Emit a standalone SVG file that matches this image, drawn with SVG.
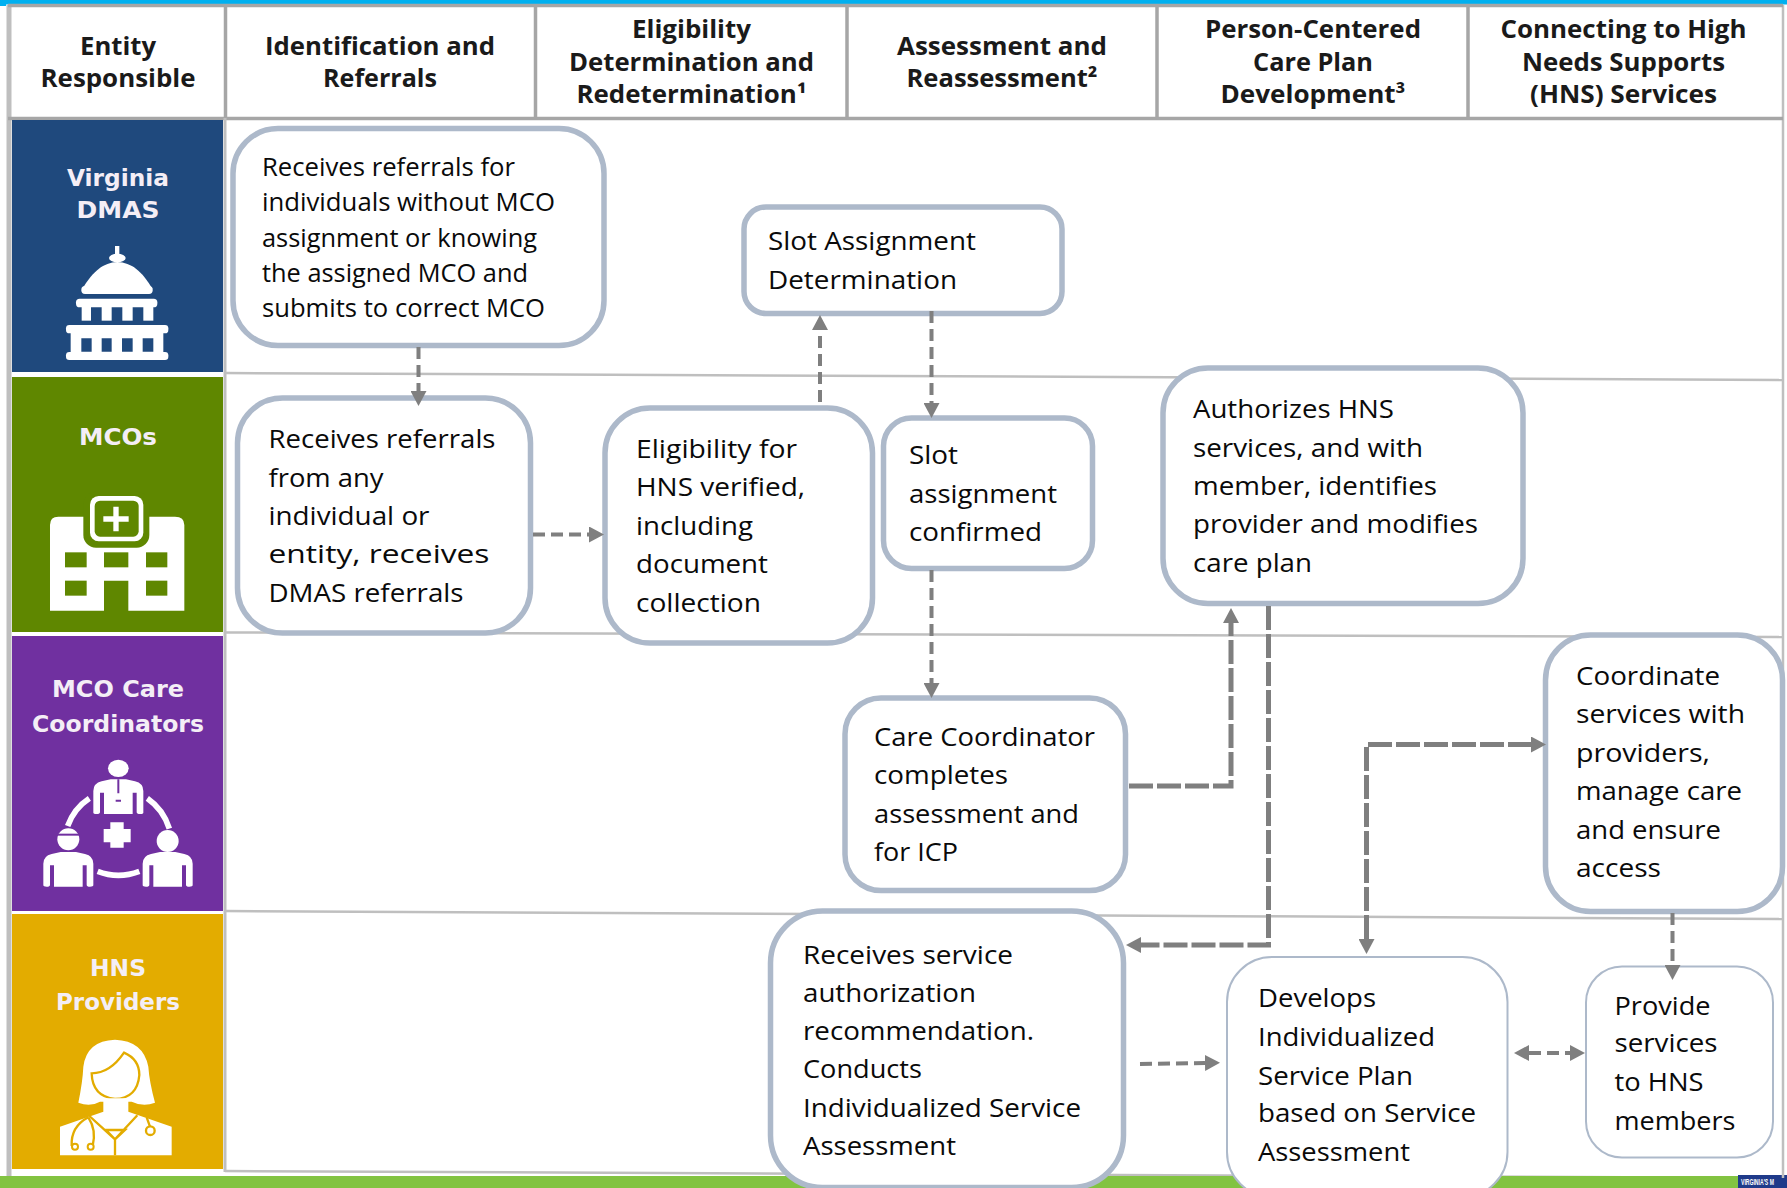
<svg xmlns="http://www.w3.org/2000/svg" width="1787" height="1188" viewBox="0 0 1787 1188">
<style>
.b{font-family:"Open Sans","Noto Sans",sans-serif;font-size:25.500px;fill:#0a0a0a}
.h{font-family:"Open Sans","Noto Sans",sans-serif;font-size:24.500px;font-weight:700;fill:#1a1a1a;text-anchor:middle}
.l{font-family:"DejaVu Sans",sans-serif;font-size:22.500px;font-weight:700;fill:#f4eef6;text-anchor:middle}
.n{fill:#fff;stroke:#adb9ca;stroke-width:5.500}
.t{fill:#fff;stroke:#adb9ca;stroke-width:2}
.g{stroke:#bfbfbf;stroke-width:2.500;fill:none}
.v{stroke:#a6a6a6;stroke-width:3.500;fill:none}
.c{fill:none;stroke:#7f7f7f;stroke-width:4;stroke-dasharray:12 6}
.k{fill:none;stroke:#7f7f7f;stroke-width:5;stroke-dasharray:24 4}
.w{fill:#fff}
</style>
<defs>
<marker id="a" markerUnits="userSpaceOnUse" markerWidth="16" markerHeight="16" refX="0" refY="8" orient="auto-start-reverse"><path d="M0,0L15,8L0,16Z" fill="#7f7f7f"/></marker>
<g id="body"><path class="w" d="M0,100V35Q0,12 25,6L52,0L98,0L125,6Q150,12 150,35V100Q150,104 140,104Q130,104 130,98V40H118V104H32V40H20V98Q20,104 10,104Q0,104 0,100Z"/></g>
</defs>

<g id="frame">
<rect x="0" y="0" width="1787" height="1188" fill="#fff"/>
<rect x="6" y="0" width="1781" height="4.500" fill="#00b0f0"/>
<rect x="0" y="0" width="6" height="6" fill="#00b0f0"/>
<path class="g" d="M225,373L1783,380"/>
<path class="g" d="M225,632.500L1783,637"/>
<path class="g" d="M225,911L1783,919"/>
<path class="g" d="M225,1171L1783,1178"/>
<rect x="0" y="1176" width="1787" height="12" fill="#82c341"/>
<rect x="1738" y="1175" width="49" height="13" fill="#1f3a8a"/>
<text transform="translate(1741,1185) scale(.6,1)" font-family="'Liberation Sans',sans-serif" font-size="8.500" font-weight="700" fill="#fff">VIRGINIA'S M</text>
<path class="g" d="M1783,5V1178"/>
<path d="M9,5V1176" stroke="#bfbfbf" stroke-width="5" fill="none"/>
<path class="v" d="M8,5.500H1783M8,118.500H1783M225.500,5V118M535.500,5V118M847,5V118M1157,5V118M1468,5V118"/>
<path d="M225,118V1172" stroke="#bfbfbf" stroke-width="3" fill="none"/>
</g>

<g id="header">
<text class="h" x="118" y="55" textLength="76" lengthAdjust="spacingAndGlyphs">Entity</text>
<text class="h" x="118" y="87" textLength="155" lengthAdjust="spacingAndGlyphs">Responsible</text>
<text class="h" x="380" y="55" textLength="230" lengthAdjust="spacingAndGlyphs">Identification and</text>
<text class="h" x="380" y="87" textLength="114" lengthAdjust="spacingAndGlyphs">Referrals</text>
<text class="h" x="691.500" y="38" textLength="119" lengthAdjust="spacingAndGlyphs">Eligibility</text>
<text class="h" x="691.500" y="71" textLength="245" lengthAdjust="spacingAndGlyphs">Determination and</text>
<text class="h" x="691.500" y="103" textLength="230" lengthAdjust="spacingAndGlyphs">Redetermination¹</text>
<text class="h" x="1002" y="55" textLength="210" lengthAdjust="spacingAndGlyphs">Assessment and</text>
<text class="h" x="1002" y="87" textLength="191" lengthAdjust="spacingAndGlyphs">Reassessment²</text>
<text class="h" x="1313" y="38" textLength="216" lengthAdjust="spacingAndGlyphs">Person-Centered</text>
<text class="h" x="1313" y="71" textLength="120" lengthAdjust="spacingAndGlyphs">Care Plan</text>
<text class="h" x="1313" y="103" textLength="185" lengthAdjust="spacingAndGlyphs">Development³</text>
<text class="h" x="1623.500" y="38" textLength="246" lengthAdjust="spacingAndGlyphs">Connecting to High</text>
<text class="h" x="1623.500" y="71" textLength="203" lengthAdjust="spacingAndGlyphs">Needs Supports</text>
<text class="h" x="1623.500" y="103" textLength="187" lengthAdjust="spacingAndGlyphs">(HNS) Services</text>
</g>

<g id="lane-dmas">
<rect x="12" y="120" width="211" height="252" fill="#1f497d"/>
<text class="l" x="118" y="186" textLength="102" lengthAdjust="spacingAndGlyphs">Virginia</text>
<text class="l" x="118" y="218" textLength="83" lengthAdjust="spacingAndGlyphs">DMAS</text>
<g transform="translate(40,230) scale(.33333)" fill="#fff">
<rect x="225" y="48" width="13" height="30"/><ellipse cx="232" cy="84" rx="25" ry="13"/>
<path d="M126,178C160,122 190,98 232,96C275,98 305,122 338,178Z"/>
<rect x="124" y="168" width="214" height="24" rx="11"/>
<rect x="108" y="206" width="244" height="26" rx="11"/>
<rect x="125" y="228" width="28" height="44"/><rect x="185" y="228" width="30" height="44"/><rect x="247" y="228" width="31" height="44"/><rect x="310" y="228" width="30" height="44"/>
<rect x="78" y="285" width="307" height="25" rx="10"/>
<path d="M92,305H370V370H92ZM124,325V365H155V325ZM185,325V365H215V325ZM246,325V365H278V325ZM308,325V365H340V325Z" fill-rule="evenodd"/>
<rect x="78" y="366" width="307" height="24" rx="10"/>
</g>
</g>

<g id="lane-mcos">
<rect x="12" y="377" width="211" height="255" fill="#5f8700"/>
<text class="l" x="118" y="445" textLength="78" lengthAdjust="spacingAndGlyphs">MCOs</text>
<g transform="translate(0,370) scale(.33333)">
<path class="w" d="M150,465Q150,440 175,440H525Q553,440 553,465V722H385V632H312V722H150Z"/>
<rect x="250" y="365" width="198" height="168" rx="38" fill="#5f8700"/>
<rect x="270" y="378" width="160" height="136" rx="26" fill="#fff"/>
<rect x="284" y="392" width="132" height="108" rx="16" fill="#5f8700"/>
<path class="w" d="M340,410H356V439H386V455H356V484H340V455H310V439H340Z"/>
<g fill="#5f8700"><rect x="195" y="547" width="65" height="45"/><rect x="312" y="547" width="73" height="45"/><rect x="438" y="547" width="64" height="45"/><rect x="195" y="632" width="65" height="45"/><rect x="438" y="632" width="64" height="45"/></g>
</g>
</g>

<g id="lane-coordinators">
<rect x="12" y="636" width="211" height="275" fill="#7030a0"/>
<text class="l" x="118" y="697" textLength="132" lengthAdjust="spacingAndGlyphs">MCO Care</text>
<text class="l" x="118" y="732" textLength="172" lengthAdjust="spacingAndGlyphs">Coordinators</text>
<g transform="translate(0,740) scale(.33333)">
<ellipse class="w" cx="355" cy="85" rx="31" ry="26"/>
<use href="#body" x="280" y="118"/>
<path d="M355,118V160M347,182H363" stroke="#7030a0" stroke-width="6" fill="none"/>
<circle class="w" cx="205" cy="298" r="33"/><path d="M170,284H240" stroke="#7030a0" stroke-width="6"/>
<use href="#body" x="130" y="336"/>
<circle class="w" cx="503" cy="303" r="33"/>
<use href="#body" x="428" y="336"/>
<path d="M203,258Q222,205 268,175M442,175Q490,208 508,266M293,394Q355,418 418,394" fill="none" stroke="#fff" stroke-width="17"/>
<path class="w" d="M331,247H371V267H392V307H371V323H331V307H311V267H331Z"/>
</g>
</g>

<g id="lane-providers">
<rect x="12" y="914" width="211" height="255" fill="#e3ac00"/>
<text class="l" x="118" y="976" textLength="56" lengthAdjust="spacingAndGlyphs">HNS</text>
<text class="l" x="118" y="1010" textLength="124" lengthAdjust="spacingAndGlyphs">Providers</text>
<g transform="translate(0,780) scale(.33333)">
<path class="w" d="M235,968Q248,905 250,860Q260,782 345,779Q430,782 445,860Q448,905 465,968Q430,982 395,965H300Q270,982 235,968Z"/>
<path d="M275,880Q330,880 372,818Q418,838 418,885Q412,955 345,957Q277,950 275,880Z" fill="#fff" stroke="#e3ac00" stroke-width="7"/>
<path class="w" d="M310,955H385V995L515,1040V1126H180V1040L310,995Z"/>
<path d="M268,1008L345,1078V1126M412,1006L345,1078M318,1050H375L345,1078Z" fill="none" stroke="#e3ac00" stroke-width="7"/>
<path d="M265,1012Q212,1040 215,1098M265,1012Q290,1050 278,1098M440,1012L450,1040" fill="none" stroke="#e3ac00" stroke-width="7"/>
<circle cx="225" cy="1100" r="9" fill="#fff" stroke="#e3ac00" stroke-width="6"/><circle cx="272" cy="1100" r="9" fill="#fff" stroke="#e3ac00" stroke-width="6"/><circle cx="451" cy="1052" r="13" fill="#fff" stroke="#e3ac00" stroke-width="7"/>
</g>
</g>

<g id="n-receives-dmas">
<rect class="n" x="233" y="128.500" width="371" height="217" rx="45"/>
<text class="b" x="262" y="176" textLength="253" lengthAdjust="spacingAndGlyphs">Receives referrals for</text>
<text class="b" x="262" y="211" textLength="293" lengthAdjust="spacingAndGlyphs">individuals without MCO</text>
<text class="b" x="262" y="247" textLength="275" lengthAdjust="spacingAndGlyphs">assignment or knowing</text>
<text class="b" x="262" y="282" textLength="266" lengthAdjust="spacingAndGlyphs">the assigned MCO and</text>
<text class="b" x="262" y="317" textLength="283" lengthAdjust="spacingAndGlyphs">submits to correct MCO</text>
</g>
<g id="n-slot-determination">
<rect class="n" x="744" y="207" width="318" height="106.500" rx="22"/>
<text class="b" x="768" y="250" textLength="208" lengthAdjust="spacingAndGlyphs">Slot Assignment</text>
<text class="b" x="768" y="289" textLength="189" lengthAdjust="spacingAndGlyphs">Determination</text>
</g>
<g id="n-receives-mco">
<rect class="n" x="237.500" y="398" width="293" height="235" rx="45"/>
<text class="b" x="268.500" y="448" textLength="227" lengthAdjust="spacingAndGlyphs">Receives referrals</text>
<text class="b" x="268.500" y="487" textLength="115" lengthAdjust="spacingAndGlyphs">from any</text>
<text class="b" x="268.500" y="525" textLength="161" lengthAdjust="spacingAndGlyphs">individual or</text>
<text class="b" x="268.500" y="563" textLength="221" lengthAdjust="spacingAndGlyphs">entity, receives</text>
<text class="b" x="268.500" y="602" textLength="195" lengthAdjust="spacingAndGlyphs">DMAS referrals</text>
</g>
<g id="n-eligibility">
<rect class="n" x="605" y="408" width="267.500" height="235" rx="45"/>
<text class="b" x="636" y="458" textLength="161" lengthAdjust="spacingAndGlyphs">Eligibility for</text>
<text class="b" x="636" y="496" textLength="169" lengthAdjust="spacingAndGlyphs">HNS verified,</text>
<text class="b" x="636" y="535" textLength="117" lengthAdjust="spacingAndGlyphs">including</text>
<text class="b" x="636" y="573" textLength="132" lengthAdjust="spacingAndGlyphs">document</text>
<text class="b" x="636" y="612" textLength="125" lengthAdjust="spacingAndGlyphs">collection</text>
</g>
<g id="n-slot-confirmed">
<rect class="n" x="883.500" y="418" width="209" height="150.500" rx="28"/>
<text class="b" x="909" y="464" textLength="49" lengthAdjust="spacingAndGlyphs">Slot</text>
<text class="b" x="909" y="503" textLength="148" lengthAdjust="spacingAndGlyphs">assignment</text>
<text class="b" x="909" y="541" textLength="133" lengthAdjust="spacingAndGlyphs">confirmed</text>
</g>
<g id="n-authorizes">
<rect class="n" x="1163" y="368" width="360" height="235.500" rx="45"/>
<text class="b" x="1193" y="418" textLength="201" lengthAdjust="spacingAndGlyphs">Authorizes HNS</text>
<text class="b" x="1193" y="457" textLength="230" lengthAdjust="spacingAndGlyphs">services, and with</text>
<text class="b" x="1193" y="495" textLength="244" lengthAdjust="spacingAndGlyphs">member, identifies</text>
<text class="b" x="1193" y="533" textLength="285" lengthAdjust="spacingAndGlyphs">provider and modifies</text>
<text class="b" x="1193" y="572" textLength="119" lengthAdjust="spacingAndGlyphs">care plan</text>
</g>
<g id="n-care-coordinator">
<rect class="n" x="845" y="698" width="280.500" height="192.500" rx="36"/>
<text class="b" x="874" y="746" textLength="221" lengthAdjust="spacingAndGlyphs">Care Coordinator</text>
<text class="b" x="874" y="784" textLength="134" lengthAdjust="spacingAndGlyphs">completes</text>
<text class="b" x="874" y="823" textLength="205" lengthAdjust="spacingAndGlyphs">assessment and</text>
<text class="b" x="874" y="861" textLength="84" lengthAdjust="spacingAndGlyphs">for ICP</text>
</g>
<g id="n-coordinate">
<rect class="n" x="1545.500" y="635" width="237" height="276.500" rx="45"/>
<text class="b" x="1576" y="685" textLength="144" lengthAdjust="spacingAndGlyphs">Coordinate</text>
<text class="b" x="1576" y="723" textLength="169" lengthAdjust="spacingAndGlyphs">services with</text>
<text class="b" x="1576" y="762" textLength="134" lengthAdjust="spacingAndGlyphs">providers,</text>
<text class="b" x="1576" y="800" textLength="166" lengthAdjust="spacingAndGlyphs">manage care</text>
<text class="b" x="1576" y="839" textLength="145" lengthAdjust="spacingAndGlyphs">and ensure</text>
<text class="b" x="1576" y="877" textLength="85" lengthAdjust="spacingAndGlyphs">access</text>
</g>
<g id="n-receives-service">
<rect class="n" x="770.500" y="911" width="353" height="276.500" rx="52"/>
<text class="b" x="803" y="964" textLength="210" lengthAdjust="spacingAndGlyphs">Receives service</text>
<text class="b" x="803" y="1002" textLength="173" lengthAdjust="spacingAndGlyphs">authorization</text>
<text class="b" x="803" y="1040" textLength="231" lengthAdjust="spacingAndGlyphs">recommendation.</text>
<text class="b" x="803" y="1078" textLength="119" lengthAdjust="spacingAndGlyphs">Conducts</text>
<text class="b" x="803" y="1117" textLength="278" lengthAdjust="spacingAndGlyphs">Individualized Service</text>
<text class="b" x="803" y="1155" textLength="153" lengthAdjust="spacingAndGlyphs">Assessment</text>
</g>
<g id="n-develops">
<rect class="t" x="1227" y="957" width="280.500" height="240" rx="45"/>
<text class="b" x="1258" y="1007" textLength="118" lengthAdjust="spacingAndGlyphs">Develops</text>
<text class="b" x="1258" y="1046" textLength="177" lengthAdjust="spacingAndGlyphs">Individualized</text>
<text class="b" x="1258" y="1085" textLength="155" lengthAdjust="spacingAndGlyphs">Service Plan</text>
<text class="b" x="1258" y="1122" textLength="218" lengthAdjust="spacingAndGlyphs">based on Service</text>
<text class="b" x="1258" y="1161" textLength="152" lengthAdjust="spacingAndGlyphs">Assessment</text>
</g>
<g id="n-provide">
<rect class="t" x="1586" y="966.500" width="187" height="191" rx="36"/>
<text class="b" x="1614.500" y="1015" textLength="96" lengthAdjust="spacingAndGlyphs">Provide</text>
<text class="b" x="1614.500" y="1052" textLength="103" lengthAdjust="spacingAndGlyphs">services</text>
<text class="b" x="1614.500" y="1091" textLength="89" lengthAdjust="spacingAndGlyphs">to HNS</text>
<text class="b" x="1614.500" y="1130" textLength="121" lengthAdjust="spacingAndGlyphs">members</text>
</g>

<g id="connectors">
<path class="c" marker-end="url(#a)" d="M418.500,347V391"/>
<path class="c" marker-end="url(#a)" d="M820,402V330"/>
<path class="c" marker-end="url(#a)" d="M931.500,311V403"/>
<path class="c" marker-end="url(#a)" d="M533,534.500H589"/>
<path class="c" marker-end="url(#a)" d="M931.500,570V683"/>
<path class="k" marker-end="url(#a)" d="M1129,786H1231V623"/>
<path class="k" marker-end="url(#a)" d="M1268.500,606V945H1141"/>
<path class="k" marker-start="url(#a)" marker-end="url(#a)" d="M1366.500,939V744.500H1531"/>
<path class="c" marker-end="url(#a)" d="M1672.500,913V965"/>
<path class="c" stroke-width="5" marker-end="url(#a)" d="M1140,1064L1205,1063"/>
<path class="c" marker-start="url(#a)" marker-end="url(#a)" d="M1529,1053H1570"/>
</g>
</svg>
